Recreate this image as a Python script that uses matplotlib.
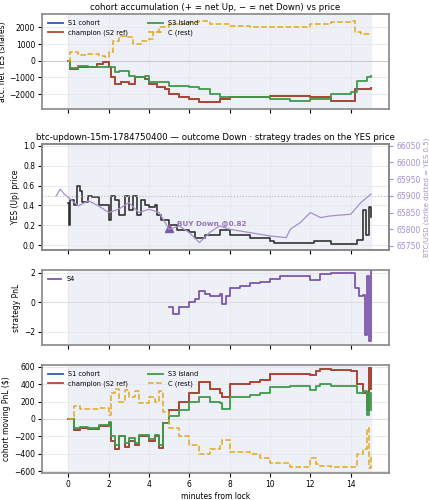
import matplotlib
matplotlib.use("Agg")
import matplotlib.pyplot as plt
import numpy as np

# --- data (minutes from lock, value) ---
s12_t = [0,0.1,0.5,1,1.4,1.7,2,2.1,2.3,2.6,3,3.3,3.8,4,4.4,4.8,5,5.5,6,6.5,7,7.5,8,9,10,11,12,13,14,14.2,15]
s12_v = [0,-500,-350,-350,-200,-100,-400,-1000,-1400,-1300,-1400,-1000,-1100,-1400,-1600,-1700,-2000,-2200,-2300,-2500,-2500,-2300,-2200,-2200,-2100,-2100,-2200,-2400,-2400,-1700,-1650]
s3a_t = [0,0.1,0.5,1,1.5,2,2.3,2.5,3,3.3,3.8,4,5,6,6.5,7,7.5,8,9,10,11,12,13,14,14.3,14.8,15]
s3a_v = [0,-450,-300,-350,-400,-350,-700,-600,-900,-1000,-900,-1300,-1500,-1600,-1700,-2000,-2200,-2200,-2200,-2300,-2400,-2300,-2000,-1900,-1200,-1000,-900]
ca_t = [0,0.1,0.5,1,1.5,1.8,2,2.2,2.5,2.8,3.2,3.6,4,4.2,4.5,5,6,6.5,7,8,9,10,11,12,13,14,14.2,14.5,15]
ca_v = [0,500,350,400,300,200,500,1200,1500,1400,1000,1200,1300,1700,2000,2200,2300,2400,2200,2100,2050,2050,2000,2200,2300,2400,1700,1600,1600]

yes_t = [0,0.05,0.1,0.3,0.45,0.6,0.7,1,1.2,1.5,2,2.1,2.3,2.5,2.8,3,3.2,3.4,3.6,3.8,4,4.3,4.4,4.6,5,5.4,6,6.3,6.8,7.5,8,9,10,10.2,11,12,12.2,13,14,14.3,14.6,14.75,14.9,15]
yes_v = [0.42,0.2,0.45,0.4,0.6,0.55,0.43,0.5,0.48,0.4,0.25,0.5,0.45,0.3,0.5,0.35,0.5,0.3,0.45,0.4,0.38,0.4,0.3,0.25,0.2,0.15,0.13,0.07,0.1,0.15,0.1,0.07,0.04,0.02,0.02,0.02,0.04,0.01,0.01,0.05,0.35,0.1,0.38,0.28]
btc_t = [-0.6,-0.4,-0.2,0,0.5,1,1.5,2,2.5,3,3.5,4,4.5,4.8,5,5.5,6,6.5,7,7.5,8,9,10,10.8,11,11.5,12,12.5,13,14,14.5,15]
btc_v = [65900,65920,65905,65895,65870,65885,65870,65850,65860,65880,65850,65860,65850,65820,65800,65810,65790,65760,65790,65810,65800,65790,65780,65775,65800,65820,65850,65835,65840,65845,65880,65905]
strike = 65900
buy_t, buy_p = 5.0, 0.17

s4_t = [5,5.2,5.5,6,6.3,6.5,6.8,7,7.5,7.6,7.8,8,8.5,9,9.5,10,10.5,11,11.8,12,12.5,13,14,14.2,14.4,14.6,14.7,14.8,14.9,15]
s4_v = [-0.3,-0.8,-0.3,0,0.2,0.8,0.6,0.4,0.6,-0.1,0.4,1.0,1.1,1.3,1.4,1.6,1.8,1.8,1.8,1.5,1.9,2.0,2.0,1.0,0.4,0.5,-2.2,1.8,-2.6,2.1]

pnl_t = [0,0.3,0.6,1,1.5,2,2.1,2.3,2.5,2.8,3,3.3,3.5,4,4.3,4.5,4.7,5,5.5,6,6.5,7,7.5,7.6,8,9,9.5,10,11,12,12.3,12.5,13,14,14.3,14.6,14.8,14.9,15]
champ_v = [0,-130,-100,-110,-80,-50,-250,-350,-200,-320,-250,-300,-200,-250,-200,-330,-50,100,200,300,420,350,300,250,400,420,450,520,520,500,550,570,560,550,400,300,100,580,350]
s3p_v = [0,-100,-90,-100,-70,-30,-200,-300,-200,-280,-220,-270,-180,-230,-180,-300,-50,40,100,200,250,200,180,120,250,270,300,370,380,330,380,400,380,380,300,320,50,300,100]
cp_v = [0,150,120,110,130,50,300,350,200,330,250,320,180,250,200,320,80,-100,-200,-300,-400,-350,-300,-240,-380,-400,-450,-500,-550,-450,-520,-540,-550,-550,-400,-350,-100,-560,-400]

C_S1 = "#2f5cad"; C_CH = "#b5452a"; C_S3 = "#3d9a4b"; C_C = "#e3a823"; C_S4 = "#7e57a8"; C_BTC = "#a58fc9"

plt.rcParams.update({"font.size": 5.5, "axes.edgecolor": "#888888", "axes.linewidth": 1.2})
fig = plt.figure(figsize=(4.29, 5.0), dpi=100)
axes = [fig.add_axes([0.098, 0.782, 0.809, 0.19]),
        fig.add_axes([0.098, 0.5, 0.809, 0.212]),
        fig.add_axes([0.098, 0.31, 0.809, 0.15]),
        fig.add_axes([0.098, 0.054, 0.809, 0.216])]
for ax in axes:
    ax.set_facecolor("white")
    ax.axvspan(0, 15, color="#eef0f8", zorder=0)
    ax.grid(True, color="#e6e6ea", lw=0.6)
    ax.set_xlim(-1.3, 15.9)
    ax.set_xticks(range(0, 15, 2))
    ax.tick_params(length=3, labelsize=5.5, pad=2)
for ax in axes[:3]:
    ax.set_xticklabels([])

ax = axes[0]
ax.axhline(0, color="#cccccc", lw=0.8)
ax.step(s12_t, s12_v, where="post", color=C_S1, lw=1.3, label="S1 cohort")
ax.step(s12_t, s12_v, where="post", color=C_CH, lw=1.3, label="champion (S2 ref)")
ax.step(s3a_t, s3a_v, where="post", color=C_S3, lw=1.3, label="S3 island")
ax.step(ca_t, ca_v, where="post", color=C_C, lw=1.1, ls="--", label="C (rest)")
ax.set_ylim(-2900, 2800)
ax.set_yticks([-2000, -1000, 0, 1000, 2000])
ax.set_ylabel("acc. net YES (shares)", labelpad=2)
ax.set_title("cohort accumulation (+ = net Up, − = net Down) vs price", fontsize=6.2, pad=3)
ax.legend(loc="upper left", ncol=2, fontsize=4.8, frameon=False, handlelength=2.2, columnspacing=3)

ax = axes[1]
ax.step(yes_t, yes_v, where="post", color="#333333", lw=1.2)
ax.set_ylim(-0.05, 1.02)
ax.set_ylabel("YES (Up) price", labelpad=2)
ax.set_title("btc-updown-15m-1784750400 — outcome Down · strategy trades on the YES price", fontsize=6.2, pad=3)
ax.plot([buy_t], [buy_p], marker="^", color=C_S4, ms=6)
ax.annotate("BUY Down @0.82", (buy_t, buy_p), xytext=(5.4, 0.2), color=C_S4, fontsize=5.2, fontweight="bold", alpha=0.8)
ax2 = ax.twinx()
ax2.plot(btc_t, btc_v, color=C_BTC, lw=0.9)
ax2.axhline(strike, color="#bbbbbb", ls=":", lw=0.8)
ax2.set_ylim(65738, 66055)
ax2.set_yticks(range(65750, 66051, 50))
ax2.tick_params(axis="y", colors=C_BTC, labelsize=5.5, length=3, pad=2)
ax2.set_ylabel("BTC/USD (strike dotted = YES 0.5)", color=C_BTC, fontsize=5, labelpad=2)

ax = axes[2]
ax.axhline(0, color="#dddddd", lw=0.8)
ax.step(s4_t, s4_v, where="post", color=C_S4, lw=1.3, label="S4")
ax.set_ylim(-2.9, 2.2)
ax.set_yticks([-2, 0, 2])
ax.set_ylabel("strategy PnL", labelpad=2)
ax.legend(loc="upper left", fontsize=4.8, frameon=False)

ax = axes[3]
ax.axhline(0, color="#dddddd", lw=0.8)
ax.step(pnl_t, champ_v, where="post", color=C_S1, lw=1.3, label="S1 cohort")
ax.step(pnl_t, champ_v, where="post", color=C_CH, lw=1.3, label="champion (S2 ref)")
ax.step(pnl_t, s3p_v, where="post", color=C_S3, lw=1.3, label="S3 island")
ax.step(pnl_t, cp_v, where="post", color=C_C, lw=1.1, ls="--", label="C (rest)")
ax.set_ylim(-620, 620)
ax.set_yticks(range(-600, 601, 200))
ax.set_ylabel("cohort moving PnL ($)", labelpad=2)
ax.set_xlabel("minutes from lock", labelpad=2)
ax.set_xticklabels([str(v) for v in range(0, 15, 2)])
ax.legend(loc="upper left", ncol=2, fontsize=4.8, frameon=False, handlelength=2.2, columnspacing=3)

fig.savefig("out.png", dpi=100)
